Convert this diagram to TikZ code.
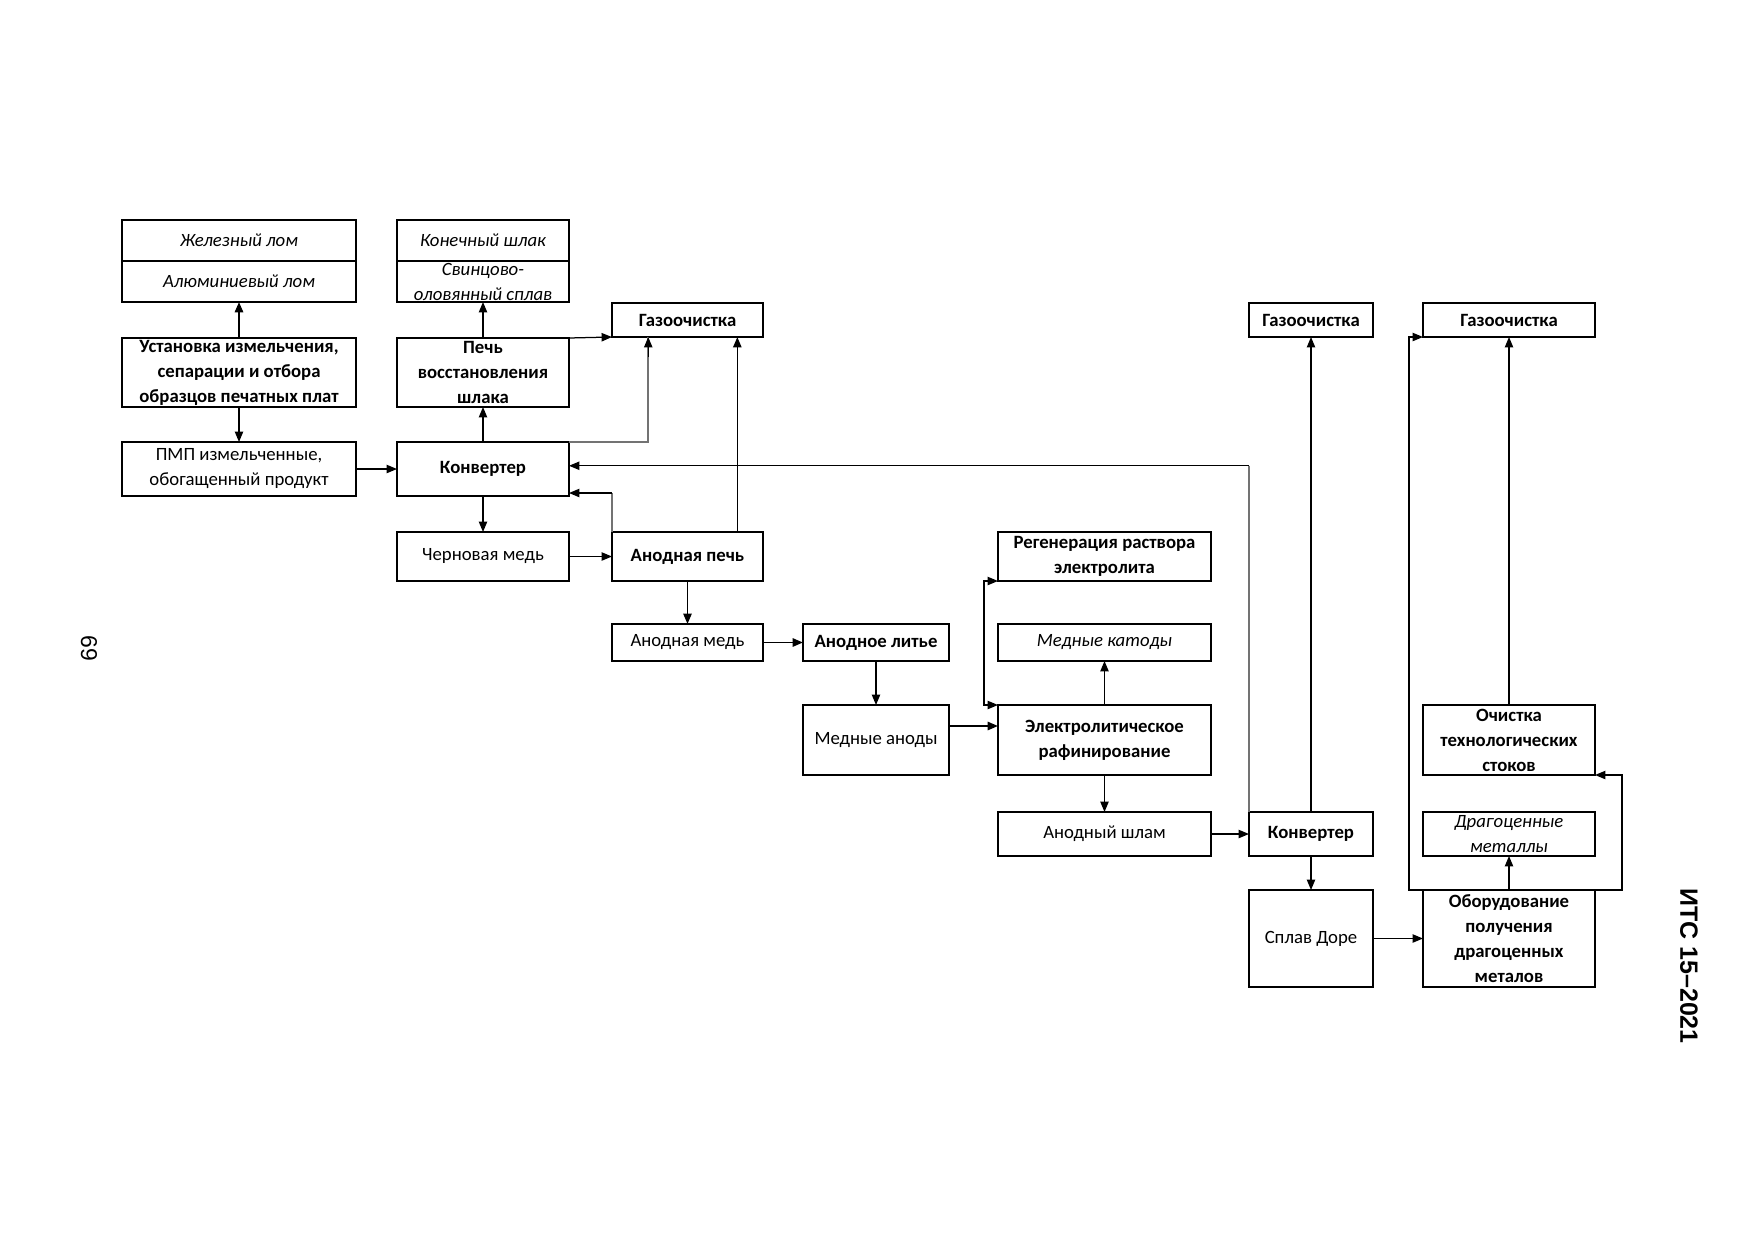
\documentclass[tikz,border=0pt]{standalone}
\usepackage{fontspec}
\setmainfont{Carlito}
\newfontfamily\arialf{Liberation Sans}
\usetikzlibrary{arrows.meta,calc}
\newcommand{\mkbox}[7]{\node[#6, minimum width={(#4-#2)*0.48pt}, minimum height={(#5-#3)*0.48pt}] (#1) at ({(#2+#4)/2},{(#3+#5)/2}) {#7};}
\tikzset{
  box/.style={draw, line width=0.9pt, inner sep=0pt, outer sep=0pt, align=center, font=\fontsize{9}{12}\selectfont},
  bbox/.style={box, font=\fontsize{9}{12}\selectfont\bfseries},
  ibox/.style={box, font=\fontsize{9}{12}\selectfont\itshape},
  conn/.style={line width=0.6pt, -{Triangle[length=5pt,width=4pt]}},
  gconn/.style={line width=0.8pt, draw=black!55},
  plain/.style={line width=0.6pt},
}
\begin{document}
\begin{tikzpicture}[x=0.48pt, y=-0.48pt]
\useasboundingbox[fill=white] (0,0) rectangle (1754,1241);
% boxes
\mkbox{iron}{122}{220}{356}{261}{ibox}{Железный лом}
\mkbox{alu}{122}{261}{356}{302}{ibox}{Алюминиевый лом}
\mkbox{slag}{397}{220}{569}{261}{ibox}{Конечный шлак}
\mkbox{pbsn}{397}{261}{569}{302}{ibox}{Свинцово-\\оловянный сплав}
\mkbox{ust}{122}{338}{356}{407}{bbox}{Установка измельчения,\\сепарации и отбора\\образцов печатных плат}
\mkbox{pech}{397}{338}{569}{407}{bbox}{Печь\\восстановления\\шлака}
\mkbox{pmp}{122}{442}{356}{496}{box}{ПМП измельченные,\\обогащенный продукт}
\mkbox{konv1}{397}{442}{569}{496}{bbox}{Конвертер}
\mkbox{gaz1}{612}{303}{763}{337}{bbox}{Газоочистка}
\mkbox{chm}{397}{532}{569}{581}{box}{Черновая медь}
\mkbox{anp}{612}{532}{763}{581}{bbox}{Анодная печь}
\mkbox{anm}{612}{624}{763}{661}{box}{Анодная медь}
\mkbox{anl}{803}{624}{949}{661}{bbox}{Анодное литье}
\mkbox{mea}{803}{705}{949}{775}{box}{Медные аноды}
\mkbox{reg}{998}{532}{1211}{581}{bbox}{Регенерация раствора\\электролита}
\mkbox{mkat}{998}{624}{1211}{661}{ibox}{Медные катоды}
\mkbox{elr}{998}{705}{1211}{775}{bbox}{Электролитическое\\рафинирование}
\mkbox{ansh}{998}{812}{1211}{856}{box}{Анодный шлам}
\mkbox{konv2}{1249}{812}{1373}{856}{bbox}{Конвертер}
\mkbox{dore}{1249}{890}{1373}{987}{box}{Сплав Доре}
\mkbox{gaz2}{1249}{303}{1373}{337}{bbox}{Газоочистка}
\mkbox{gaz3}{1423}{303}{1595}{337}{bbox}{Газоочистка}
\mkbox{och}{1423}{705}{1595}{775}{bbox}{Очистка\\технологических\\стоков}
\mkbox{drag}{1423}{812}{1595}{856}{ibox}{Драгоценные\\металлы}
\mkbox{obor}{1423}{890}{1595}{987}{bbox}{Оборудование\\получения\\драгоценных\\металов}
% page texts
\node[rotate=-90, font=\arialf\fontsize{11}{13}\selectfont] (pnum) at (89,648) {69};
\node[rotate=-90, font=\arialf\bfseries\fontsize{12}{14}\selectfont] (hdr) at (1689,966) {ИТС 15–2021};
% connectors
\draw[conn, line width=1pt] (ust.north) -- (alu.south);
\draw[conn] (ust.south) -- (pmp.north);
\draw[conn] (pmp.east) -- (konv1.west);
\draw[conn] (konv1.north) -- (pech.south);
\draw[conn] (pech.north) -- (pbsn.south);
\draw[conn] (pech.north east) -- (gaz1.south west);
\coordinate (g1a) at ($(gaz1.south west)!0.24!(gaz1.south east)$);
\draw[gconn] (konv1.north east) -| (g1a);
\draw[conn, draw=black, fill=black] ($(g1a)+(0,20)$) -- (g1a);
\coordinate (a8) at ($(anp.north west)!0.83!(anp.north east)$);
\draw[conn, line width=0.8pt] (a8) -- (a8 |- gaz1.south);
% feedback from Konverter 2 to Konverter 1
\coordinate (fb) at ($(konv1.north east)!0.44!(konv1.south east)$);
\draw[gconn] (konv2.north west) -- (konv2.north west |- fb);
\draw[conn] (konv2.north west |- fb) -- (fb);
% anode furnace back to converter
\coordinate (fb2) at ($(konv1.south east)+(0,-3)$);
\draw[gconn] (anp.north west) -- (anp.north west |- fb2);
\draw[conn] (anp.north west |- fb2) -- (fb2);
\draw[conn] (konv1.south) -- (chm.north);
\draw[conn] (chm.east) -- (anp.west);
\draw[conn, line width=0.8pt] (anp.south) -- (anm.north);
\draw[conn, line width=0.9pt] (anm.east) -- (anl.west);
\draw[conn] (anl.south) -- (mea.north);
\coordinate (ma) at ($(mea.north east)!0.3!(mea.south east)$);
\draw[conn, line width=0.9pt] (ma) -- (ma -| elr.west);
\draw[line width=0.6pt, {Triangle[length=5pt,width=4pt]}-{Triangle[length=5pt,width=4pt]}] (reg.south west) -- ++(-14,0) |- (elr.north west);
\draw[conn] (elr.north) -- (mkat.south);
\draw[conn] (elr.south) -- (ansh.north);
\draw[conn] (ansh.east) -- (konv2.west);
\draw[conn] (konv2.north) -- (gaz2.south);
\draw[conn] (konv2.south) -- (dore.north);
\draw[conn] (dore.east) -- (obor.west);
\draw[conn] (obor.north) -- (drag.south);
\draw[conn] (obor.north west) -- ++(-14,0) |- (gaz3.south west);
\draw[conn] (obor.north east) -- ++(27,0) |- (och.south east);
\draw[conn] (och.north) -- (gaz3.south);
\end{tikzpicture}
\end{document}
